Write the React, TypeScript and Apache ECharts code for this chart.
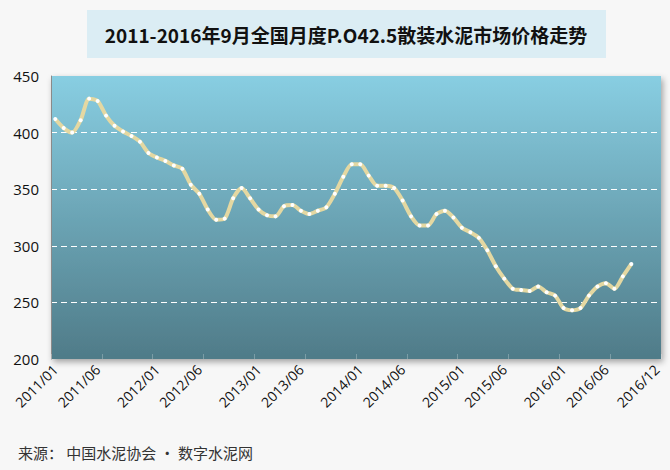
import React, { useEffect, useRef } from "react";
import * as echarts from "echarts";

const years = ["2011", "2012", "2013", "2014", "2015", "2016"];
const months = ["01", "02", "03", "04", "05", "06", "07", "08", "09", "10", "11", "12"];
const categories: string[] = [];
years.forEach((y) => months.forEach((m) => categories.push(`${y}/${m}`)));

const shownLabels = [
  "2011/01", "2011/06", "2012/01", "2012/06", "2013/01", "2013/06",
  "2014/01", "2014/06", "2015/01", "2015/06", "2016/01", "2016/06", "2016/12",
];

const prices2011 = [412, 404, 400, 411, 430, 428, 415, 406, 401, 397, 392, 382];
const prices2012 = [378, 375, 371, 368, 354, 346, 332, 323, 324, 342, 351, 342];
const prices2013 = [332, 327, 326, 335, 336, 331, 328, 331, 334, 346, 361, 372];
const prices2014 = [372, 362, 353, 353, 351, 340, 326, 318, 318, 328, 331, 325];
const prices2015 = [316, 312, 307, 296, 282, 271, 262, 261, 260, 264, 259, 256];
const prices2016 = [245, 243, 245, 256, 264, 267, 262, 273, 284];

const prices = [
  ...prices2011, ...prices2012, ...prices2013,
  ...prices2014, ...prices2015, ...prices2016,
];

const titleText = "2011-2016年9月全国月度P.O42.5散装水泥市场价格走势";
const sourceText = "来源： 中国水泥协会 · 数字水泥网";

export default function App() {
  const ref = useRef<HTMLDivElement>(null);
  useEffect(() => {
    if (!ref.current) return;
    const chart = echarts.init(ref.current, undefined, { renderer: "svg" });
    const labelSet = new Set(shownLabels);
    chart.setOption({
      animation: false,
      backgroundColor: "#f7f7f7",
      textStyle: { fontFamily: "'Open Sans', 'Noto Sans CJK SC', sans-serif" },
      graphic: [
        {
          type: "rect",
          shape: { x: 87, y: 10, width: 519, height: 48 },
          style: { fill: "#dbedf4" },
        },
        {
          type: "text",
          x: 346,
          y: 34,
          style: {
            text: titleText,
            fill: "#111",
            font: "bold 19px 'Noto Sans CJK SC', sans-serif",
            align: "center",
            verticalAlign: "middle",
          },
        },
        {
          type: "text",
          x: 18,
          y: 452,
          style: {
            text: sourceText,
            fill: "#333",
            font: "15px 'Noto Sans CJK SC', sans-serif",
            align: "left",
            verticalAlign: "middle",
          },
        },
      ],
      grid: {
        left: 51,
        right: 9,
        top: 76,
        bottom: 111,
        show: true,
        borderWidth: 0,
        backgroundColor: new echarts.graphic.LinearGradient(0, 0, 0, 1, [
          { offset: 0, color: "#88cee2" },
          { offset: 1, color: "#4f7b88" },
        ]),
        shadowColor: "rgba(0,0,0,0.35)",
        shadowBlur: 6,
        shadowOffsetX: 2,
        shadowOffsetY: 3,
      },
      xAxis: {
        type: "category",
        data: categories,
        boundaryGap: true,
        axisLine: { show: false },
        axisTick: {
          show: true,
          inside: true,
          length: 5,
          interval: 5,
          lineStyle: { color: "rgba(255,255,255,0.25)" },
        },
        axisLabel: {
          rotate: 45,
          interval: (_i: number, v: string) => labelSet.has(v),
          color: "#111",
          fontSize: 14,
          margin: 8,
        },
        splitLine: { show: false },
      },
      yAxis: {
        type: "value",
        min: 200,
        max: 450,
        interval: 50,
        axisLine: { show: true, lineStyle: { color: "#8a8a8a", width: 1 } },
        axisTick: { show: false },
        axisLabel: { color: "#111", fontSize: 15, margin: 12 },
        splitLine: {
          show: true,
          lineStyle: {
            color: [
              "rgba(0,0,0,0)",
              "#ffffff",
              "#ffffff",
              "#ffffff",
              "#ffffff",
              "rgba(0,0,0,0)",
            ],
            type: [6, 4],
            width: 1,
          },
        },
      },
      series: [
        {
          type: "line",
          data: prices,
          smooth: 0.25,
          symbol: "circle",
          symbolSize: 4,
          showSymbol: true,
          lineStyle: { color: "#e4d8a2", width: 4 },
          itemStyle: { color: "#ffffff", borderWidth: 0 },
        },
      ],
    });
    return () => chart.dispose();
  }, []);
  return (
    <div
      ref={ref}
      style={{ position: "absolute", left: 0, top: 0, width: 670, height: 470 }}
    />
  );
}
